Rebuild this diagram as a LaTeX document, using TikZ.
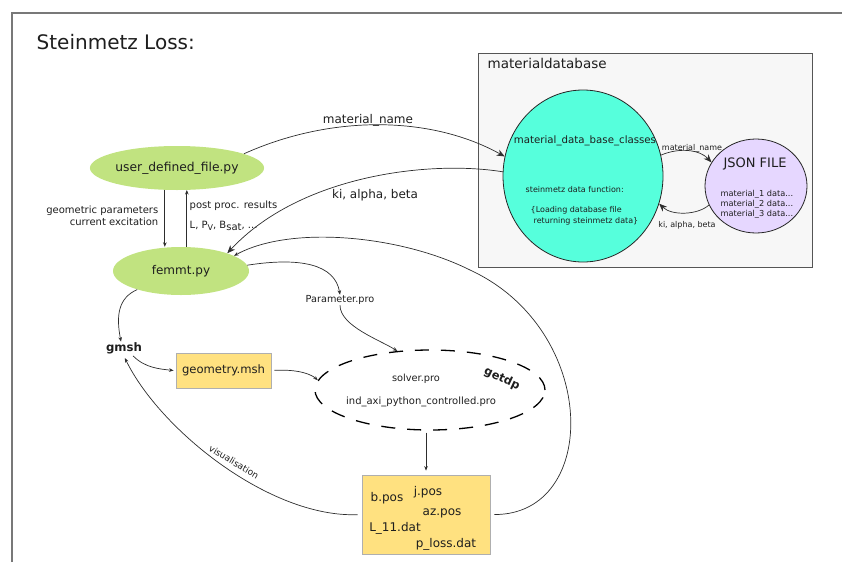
\documentclass[tikz,border=0pt]{standalone}
\usepackage{fontspec}
\setmainfont{DejaVu Sans}
\usetikzlibrary{shapes.geometric,arrows.meta}

\definecolor{txt}{RGB}{30,30,30}
\definecolor{lnk}{RGB}{45,45,45}
\definecolor{framegray}{RGB}{120,120,120}
\definecolor{boxbg}{RGB}{247,247,247}
\definecolor{boxedge}{RGB}{85,85,85}
\definecolor{leaf}{RGB}{193,227,128}
\definecolor{aqua}{RGB}{86,255,220}
\definecolor{lilac}{RGB}{230,215,255}
\definecolor{sand}{RGB}{255,225,128}
\definecolor{sandedge}{RGB}{175,175,175}

\begin{document}
\begin{tikzpicture}[x=1pt,y=-1pt,
  fsz/.style={font=\fontsize{#1}{#1}\selectfont},
  lbl/.style={inner sep=0.5pt, text=txt},
  conn/.style={draw=lnk, line width=0.7pt},
  smalltip/.style={-{Stealth[length=4.5pt,width=3.6pt]}},
  bigtip/.style={-{Stealth[length=8pt,width=6.5pt]}},
  greenell/.style={ellipse, fill=leaf, draw=none, inner sep=0, text=txt},
  filebox/.style={draw=sandedge, fill=sand, line width=0.8pt, inner sep=0},
]
\useasboundingbox (0,0) rectangle (842,562);

% outer frame edges
\draw[draw=framegray, line width=1.4pt] (12,562) -- (12,13) -- (842,13);

\node[lbl, fsz=20, anchor=base west] (title) at (36,49) {Steinmetz Loss:};

% material database group
\node[draw=boxedge, fill=boxbg, line width=0.9pt, minimum width=334, minimum height=214, inner sep=0] (mdb) at (645,160) {};
\node[lbl, fsz=13.5, anchor=west] (mdblabel) at (487,63) {materialdatabase};

\node[ellipse, draw=black!85, fill=aqua, line width=0.8pt, minimum width=160, minimum height=172, inner sep=0] (mdc) at (583,176) {};
\node[lbl, fsz=10.2] (mdctitle) at (585,141) {material\_data\_base\_classes};
\node[lbl, fsz=8, anchor=west] (mdcf) at (525,190) {steinmetz data function:};
\node[lbl, fsz=8, anchor=west] (mdcl1) at (530,210) {\{Loading database file};
\node[lbl, fsz=8, anchor=west] (mdcl2) at (533,221) {returning steinmetz data\}};

\node[ellipse, draw=black!85, fill=lilac, line width=0.8pt, minimum width=102, minimum height=94, inner sep=0] (json) at (756,186) {};
\node[lbl, fsz=13] (jsontitle) at (755,164) {JSON FILE};
\node[lbl, fsz=8.2, anchor=west] (jm1) at (720,194) {material\_1 data...};
\node[lbl, fsz=8.2, anchor=west] (jm2) at (720,204) {material\_2 data...};
\node[lbl, fsz=8.2, anchor=west] (jm3) at (720,214) {material\_3 data...};

\draw[conn, bigtip] (mdc.15) .. controls (680,147) and (700,150) .. (json.152);
\node[lbl, fsz=8] (mnsmall) at (692,148) {material\_name};
\draw[conn, bigtip] (json.202) .. controls (698,215) and (672,216) .. (mdc.340);
\node[lbl, fsz=8] (kasmall) at (687,225) {ki, alpha, beta};

% python side
\node[greenell, minimum width=170, minimum height=44, fsz=12.3] (ud) at (177,168) {user\_defined\_file.py};
\node[greenell, minimum width=136, minimum height=48, fsz=12] (fe) at (181,271) {femmt.py};

\draw[conn, smalltip] (ud.241) -- (ud.241 |- fe.north);
\draw[conn, smalltip] (fe.north -| ud.294.5) -- (ud.294.5);
\node[lbl, align=right, anchor=east, font=\fontsize{10}{11.5}\selectfont] (gp) at (159,216) {geometric parameters\\current excitation};
\node[lbl, fsz=10, anchor=west] (pp) at (189,206) {post proc. results};
\node[lbl, fsz=10, anchor=west] (ppv) at (189,226) {L, P\raisebox{-0.4ex}{\fontsize{8}{8}\selectfont V}, B\raisebox{-0.4ex}{\fontsize{10}{10}\selectfont sat}, ...};

\draw[conn, bigtip] (ud.12) .. controls (330,115) and (430,115) .. (mdc.166);
\node[lbl, fsz=12] (mnbig) at (368,120) {material\_name};
\draw[conn, bigtip] (mdc.177) .. controls (430,160) and (300,175) .. (fe.21);
\node[lbl, fsz=12] (kabig) at (375,195) {ki, alpha, beta};

% meshing and solving
\node[lbl, fsz=9.7] (param) at (340,300) {Parameter.pro};
\node[lbl, font=\fontsize{11.7}{11.7}\selectfont\bfseries] (gmsh) at (124,348) {gmsh};
\node[filebox, minimum width=95, minimum height=35, fsz=11.6, text=txt] (geo) at (223.5,370.5) {geometry.msh};

\node[ellipse, draw=black, line width=1.3pt, dash pattern=on 14pt off 12pt, minimum width=230, minimum height=80, inner sep=0] (getdp) at (430,390) {};
\node[lbl, fsz=9.8] (solver) at (416,379) {solver.pro};
\node[lbl, fsz=10] (indaxi) at (421,402) {ind\_axi\_python\_controlled.pro};
\node[lbl, rotate=-25, font=\fontsize{11.5}{11.5}\selectfont\bfseries] (getdpl) at (502,379) {getdp};

\node[filebox, minimum width=128, minimum height=79] (res) at (426,514.5) {};
\node[lbl, fsz=12] (bpos) at (387,498) {b.pos};
\node[lbl, fsz=12] (jpos) at (428,492) {j.pos};
\node[lbl, fsz=12] (azpos) at (442,513) {az.pos};
\node[lbl, fsz=12] (l11) at (395,528) {L\_11.dat};
\node[lbl, fsz=12] (ploss) at (446,544) {p\_loss.dat};

\draw[conn, smalltip] (fe.5) .. controls (300,257) and (335,264) .. (param.north);
\draw[conn, smalltip] (param.south) .. controls (340,326) and (380,340) .. (getdp.130);
\draw[conn, smalltip] (fe.203) .. controls (118,298) and (116,316) .. (gmsh.115);
\draw[conn, smalltip, shorten <=2pt] (gmsh.-40) .. controls (145,368) and (160,369) .. ([xshift=-2pt]geo.west);
\draw[conn, smalltip, shorten <=3pt] (geo.east) .. controls (300,369) and (312,375) .. (getdp.175);
\draw[conn, smalltip, shorten <=2pt, shorten >=4pt] (res.north |- getdp.south) -- (res.north);
\draw[conn, smalltip, shorten <=4pt, shorten >=4pt] (res.west) .. controls (270,518) and (160,430) .. (gmsh.262);
\node[lbl, fsz=9, rotate=-31] (vis) at (234,462) {visualisation};
\draw[conn, smalltip, shorten <=4pt] (res.east) .. controls (600,515) and (600,330) .. (470,270) .. controls (400,235) and (290,225) .. (fe.16);
\end{tikzpicture}
\end{document}
